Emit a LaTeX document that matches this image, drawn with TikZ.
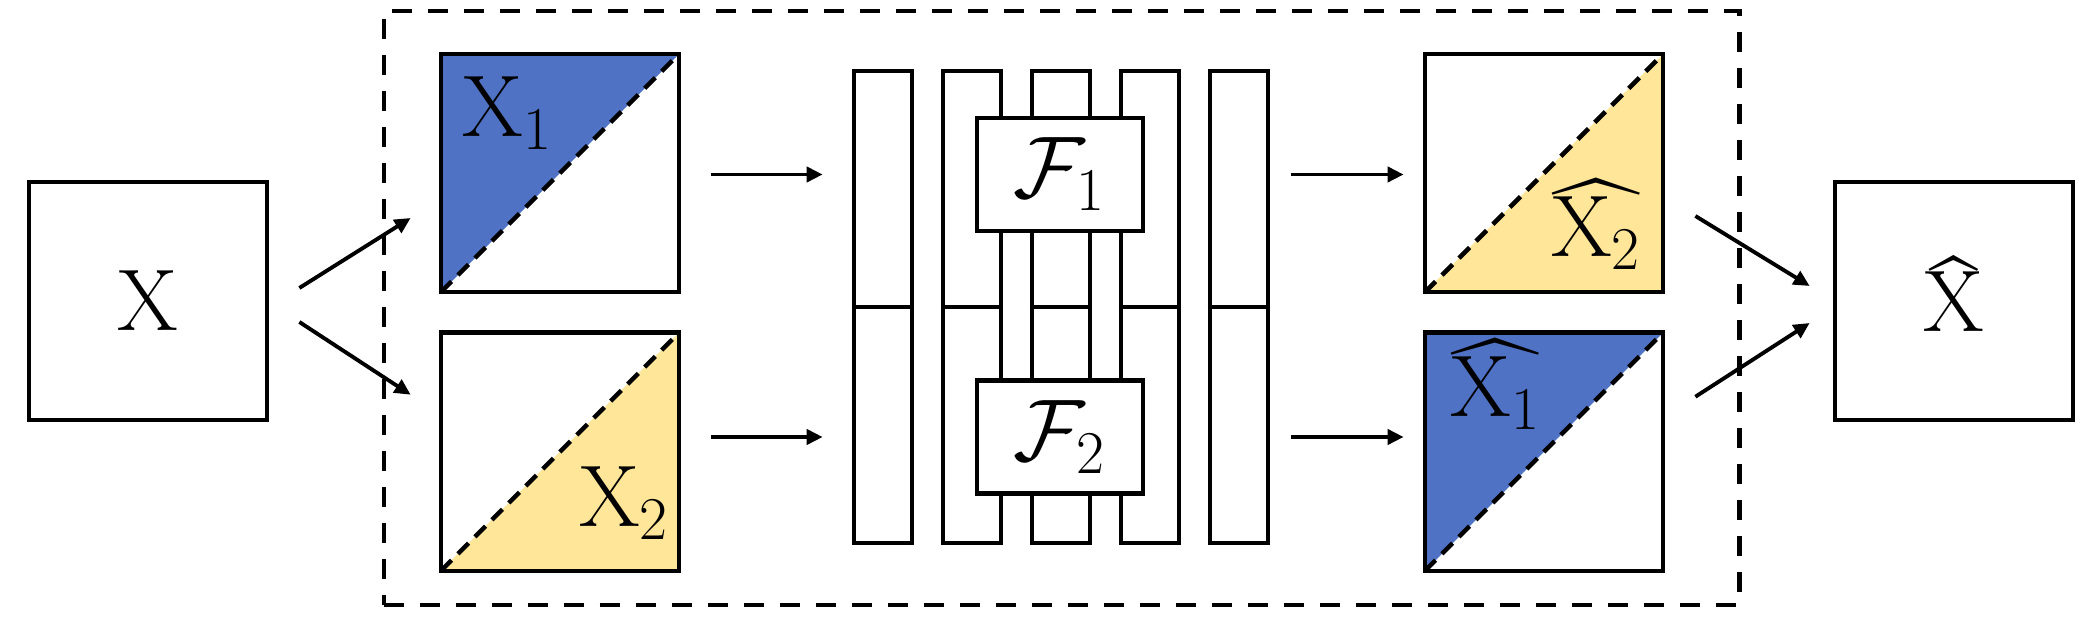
\documentclass[tikz,border=0pt]{standalone}
\usepackage{amsmath}
\usepackage{xcolor}
\usepackage{tikz}
\definecolor{halfblue}{RGB}{79, 114, 196}
\definecolor{halfyellow}{RGB}{255, 230, 153}
\usetikzlibrary{arrows.meta, positioning, calc}
\newcommand{\lowhat}[1]{\widehat{\smash{#1}\rule{0pt}{0.6em}}}

\begin{document}
\begin{tikzpicture}[
        x=0.01cm, y=-0.01cm,
        img/.style={rectangle, draw, line width=1.3pt, inner sep=0pt,
                    minimum width=2.38cm, minimum height=2.38cm,
                    font=\fontsize{23}{27}\selectfont},
        diag/.style={dash pattern=on 0.15cm off 0.09cm, line width=1.3pt},
        bluehalf/.style={path picture={
                    \fill[halfblue] (path picture bounding box.north west) -- (path picture bounding box.north east)
                        -- (path picture bounding box.south west) -- cycle;
                    \draw[diag] (path picture bounding box.south west) -- (path picture bounding box.north east);}},
        yellowhalf/.style={path picture={
                    \fill[halfyellow] (path picture bounding box.south west) -- (path picture bounding box.north east)
                        -- (path picture bounding box.south east) -- cycle;
                    \draw[diag] (path picture bounding box.south west) -- (path picture bounding box.north east);}},
        bar/.style={rectangle, draw, line width=1.3pt, inner sep=0pt,
                    minimum width=0.58cm, minimum height=4.72cm},
        fbox/.style={rectangle, draw, fill=white, line width=1.3pt, inner sep=0pt,
                    minimum width=1.66cm, minimum height=1.13cm,
                    font=\fontsize{25}{29}\selectfont},
        lbl/.style={inner sep=0pt, font=\fontsize{23}{27}\selectfont},
        outerframe/.style={rectangle, draw, line width=1.2pt, dash pattern=on 0.2cm off 0.16cm,
                    minimum width=13.55cm, minimum height=5.94cm},
        arrow/.style={-{Triangle[length=0.16cm, width=0.15cm]}, line width=1.1pt}
    ]
        \useasboundingbox (0,0) rectangle (2092,622);

        % Dashed frame
        \node[outerframe] (enc) at (1061.5,308) {};

        % Input and output images
        \node[img] (x) at (148,301) {$\mathrm{X}$};
        \node[img] (xhat) at (1954,301) {};
        \node[lbl, anchor=base] (xhattxt) at ([yshift=-0.3cm]xhat.center) {$\lowhat{\mathrm{X}}$};

        % Split halves
        \node[img, bluehalf] (x1) at (560,173) {};
        \node[img, yellowhalf, below=0.36cm of x1] (x2) {};
        \node[img, yellowhalf] (y2) at (1544,173) {};
        \node[img, bluehalf, below=0.36cm of y2] (y1) {};

        \node[lbl, anchor=base west] (x1txt) at ([shift={(23,85)}]x1.north west) {$\mathrm{X}_1$};
        \node[lbl, anchor=base west] (x2txt) at ([shift={(-103,-47)}]x2.south east) {$\mathrm{X}_2$};
        \node[lbl, anchor=base west] (y2txt) at ([shift={(-115,-38)}]y2.south east) {$\lowhat{\mathrm{X}_2}$};
        \node[lbl, anchor=base west] (y1txt) at ([shift={(27,86)}]y1.north west) {$\lowhat{\mathrm{X}_1}$};

        % Coupling layers
        \foreach \i in {1,...,5} {
            \node[bar] (bar\i) at (794+89*\i,307) {};
            \draw[line width=1.3pt] (bar\i.west) -- (bar\i.east);
        }
        \node[fbox] (f1) at (1060,174.5) {$\mathcal{F}_1$};
        \node[fbox] (f2) at (1060,437) {$\mathcal{F}_2$};

        % Arrows
        \draw[arrow] ([shift={(30,-13)}]x.east) -- ([shift={(-28,45)}]x1.west);
        \draw[arrow] ([shift={(30,21)}]x.east) -- ([shift={(-28,-57)}]x2.west);
        \draw[arrow] ([xshift=0.3cm]x1.east |- f1) -- ([xshift=-0.29cm]bar1.west |- f1);
        \draw[arrow] ([xshift=0.3cm]x2.east |- f2) -- ([xshift=-0.29cm]bar1.west |- f2);
        \draw[arrow] ([xshift=0.21cm]bar5.east |- f1) -- ([xshift=-0.19cm]y2.west |- f1);
        \draw[arrow] ([xshift=0.21cm]bar5.east |- f2) -- ([xshift=-0.19cm]y1.west |- f2);
        \draw[arrow] ([shift={(30,43)}]y2.east) -- ([shift={(-23,-15)}]xhat.west);
        \draw[arrow] ([shift={(30,-55)}]y1.east) -- ([shift={(-23,22)}]xhat.west);
    \end{tikzpicture}
\end{document}
